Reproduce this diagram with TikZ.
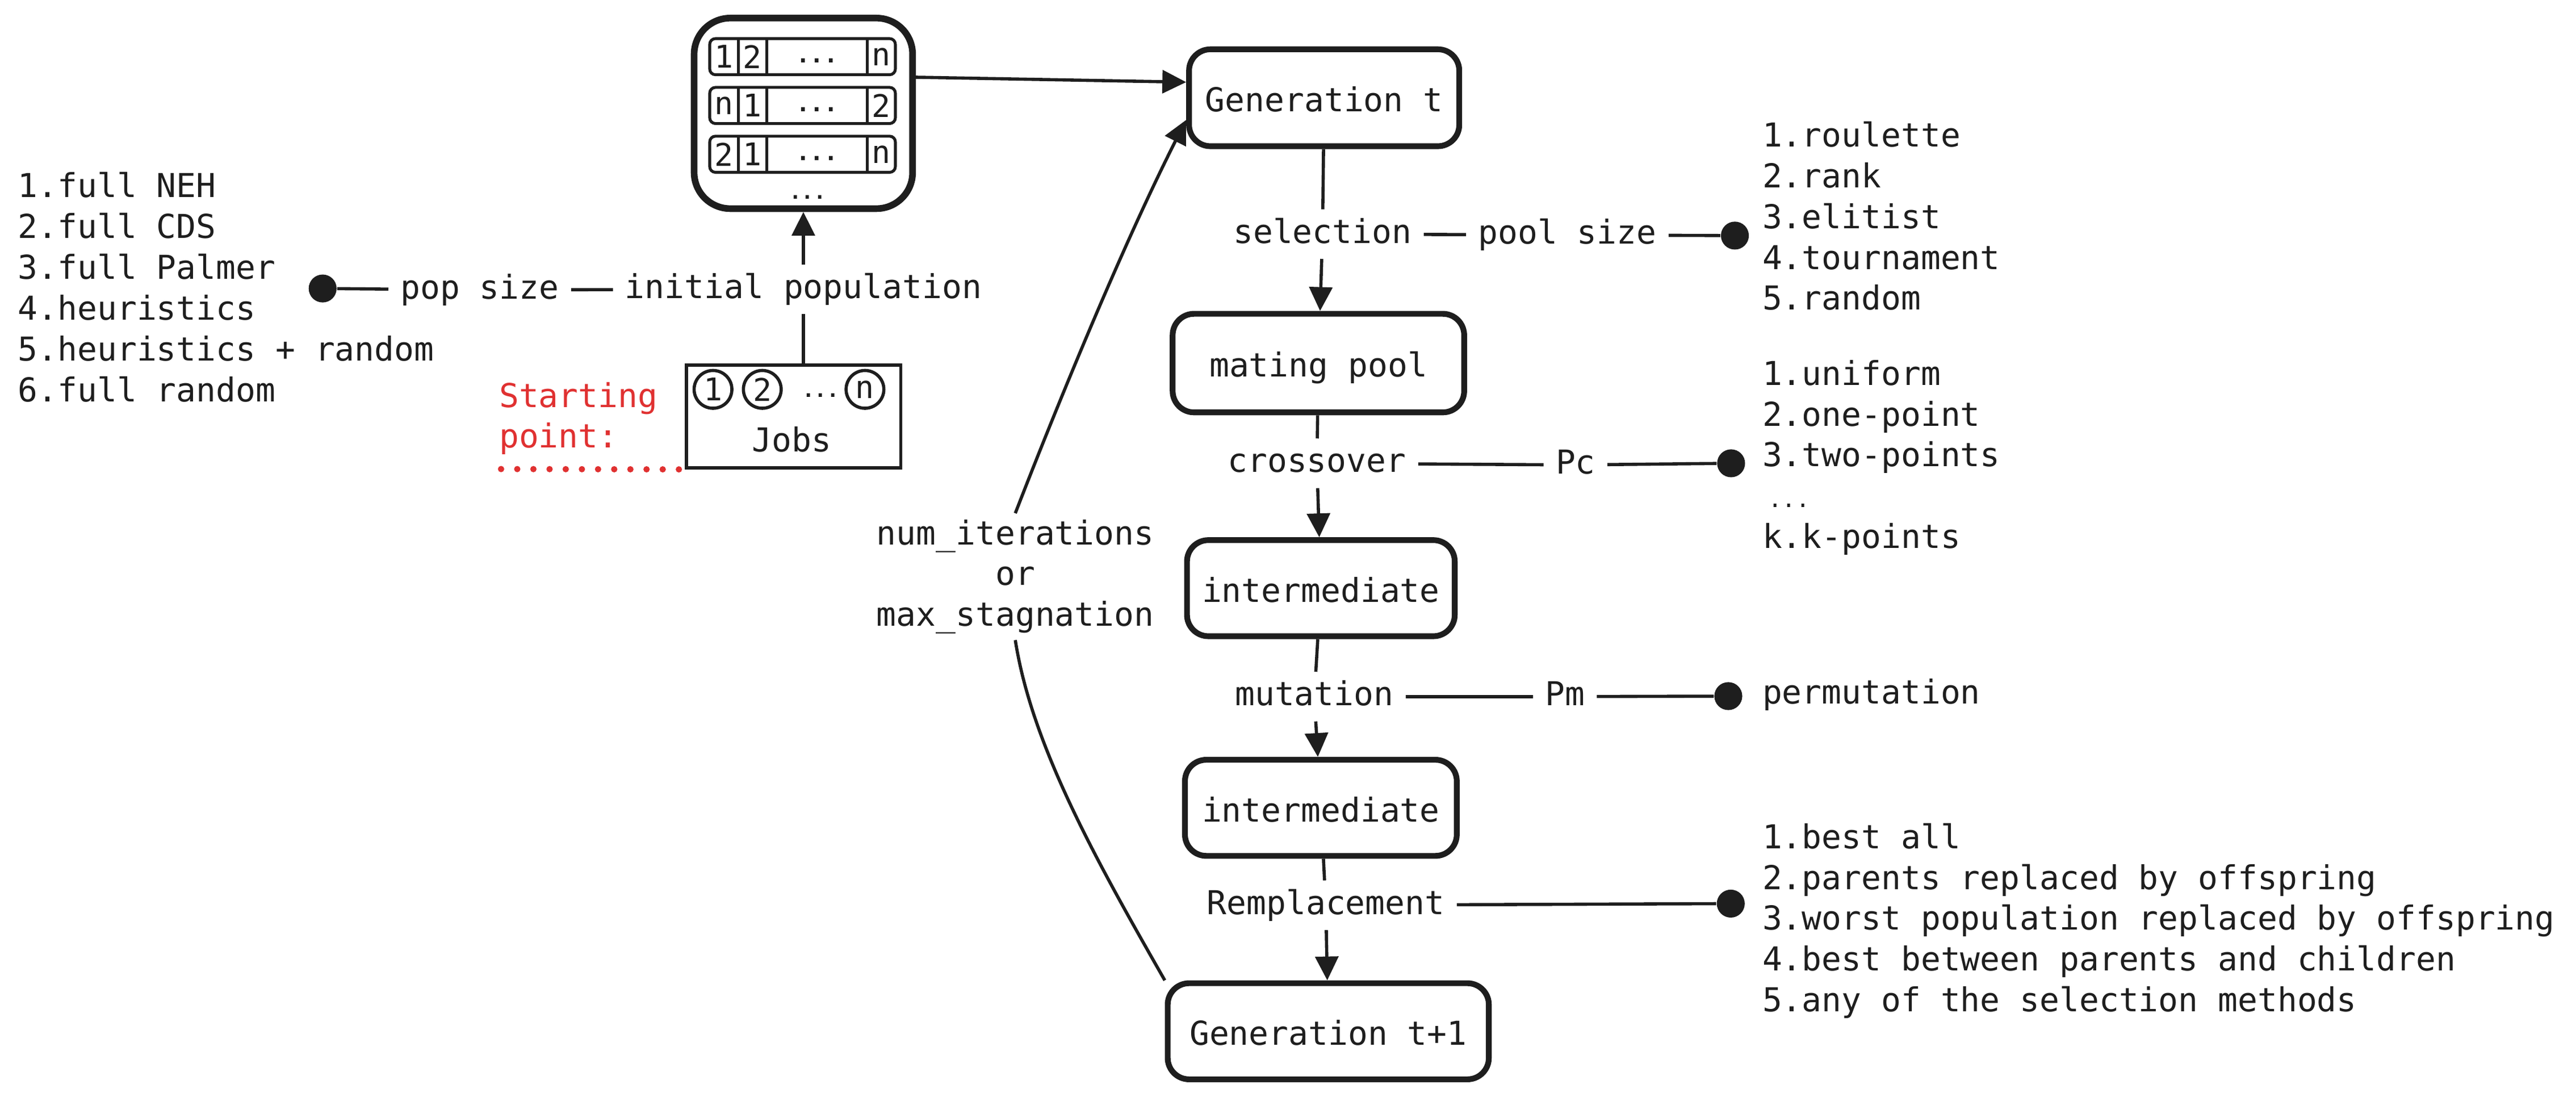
\documentclass[tikz,border=0pt]{standalone}
\usepackage{fontspec}
\setmainfont{DejaVu Sans Mono}
\usetikzlibrary{arrows.meta}
\definecolor{ink}{HTML}{1E1E1E}
\definecolor{redink}{HTML}{E03131}
\tikzset{
  stage/.style={draw=ink, line width=2pt, rounded corners=0.26cm, minimum height=1.18cm, inner sep=0pt, text height=9.6pt, text depth=0pt},
  lab/.style={inner xsep=4pt, inner ysep=3pt, text height=8.5pt, text depth=2.3pt},
  item/.style={anchor=west, inner sep=0pt, text height=8.5pt, text depth=2.3pt},
  knob/.style={circle, fill=ink, inner sep=0pt, minimum size=0.34cm},
  link/.style={draw=ink, line width=1.1pt},
  flow/.style={link, -{Triangle[length=0.29cm, width=0.28cm]}},
  gene/.style={inner sep=0pt, font=\fontsize{10.8}{12}\selectfont},
  job/.style={circle, draw=ink, line width=1.1pt, inner sep=0pt, minimum size=0.46cm, font=\fontsize{10.8}{12}\selectfont},
}
\begin{document}
\begin{tikzpicture}[x=0.02cm, y=-0.02cm, font=\fontsize{11.4}{14.1}\selectfont, every node/.append style={text=ink}]
	\useasboundingbox (0,0) rectangle (1568,667.7);
	% initial population
	\node[draw=ink, line width=2.3pt, rounded corners=0.44cm, minimum width=2.66cm, minimum height=2.32cm] (pop) at (489,69) {};
	\foreach \a/\b/\c [count=\r] in {1/2/n, n/1/2, 2/1/n}{
		\pgfmathsetmacro\yt{23.5+(\r-1)*29.7}
		\pgfmathsetmacro\yb{\yt+22}
		\draw[ink, line width=1pt, rounded corners=0.07cm] (432,\yt) rectangle (545,\yb);
		\draw[ink, line width=1pt] (449.3,\yt) -- (449.3,\yb) (466.6,\yt) -- (466.6,\yb) (528,\yt) -- (528,\yb);
		\node[gene] (r\r-a) at (440.7,{\yt+11}) {\a};
		\node[gene] (r\r-b) at (458,{\yt+11}) {\b};
		\node[gene] (r\r-d) at (497.3,{\yt+13.5}) {\bfseries\fontsize{8}{8}\selectfont...};
		\node[gene] (r\r-c) at (536.5,{\yt+11}) {\c};
	}
	\node[gene] (popdots) at (491.6,120) {\bfseries\fontsize{7}{7}\selectfont...};
	% jobs
	\node[draw=ink, line width=1.1pt, minimum width=2.61cm, minimum height=1.25cm, inner sep=0pt] (jobs) at (483,253.5) {};
	\node[job] (j1) at (434,237) {1};
	\node[job] (j2) at (464,237) {2};
	\node[gene] (jdots) at (499.5,240.8) {\bfseries\fontsize{7}{7}\selectfont...};
	\node[job] (jn) at (526.5,237) {n};
	\node[lab] (jobname) at (482,269.5) {Jobs};
	\node[item, text=redink] (st1) at (303.5,242.5) {Starting};
	\node[item, text=redink] (st2) at (303.5,267) {point:};
	\coordinate (sp) at (305,285.5);
	\draw[redink, line width=2.2pt, line cap=round, dash pattern=on 0pt off 5.6pt] (sp) -- (jobs.south west);
	% population methods
	\foreach \t [count=\i] in {1.full NEH, 2.full CDS, 3.full Palmer, 4.heuristics, 5.heuristics + random, 6.full random}
		\node[item] (popm\i) at (10.6,{114.5+(\i-1)*24.9}) {\t};
	\node[knob] (k0) at (196.4,175.6) {};
	\node[lab] (popsize) at (292,176.5) {pop size};
	\node[lab] (init) at (489,176) {initial population};
	\draw[link] (k0) -- (popsize);
	\draw[link] (popsize) -- (init);
	\draw[flow] (init) -- (pop);
	\draw[link] (init) -- (init |- jobs.north);
	% generations
	\node[stage, minimum width=3.29cm] (gen0) at (806,59.5) {Generation t};
	\node[stage, minimum width=3.55cm, minimum height=1.2cm] (pool) at (802.5,221) {mating pool};
	\node[stage, minimum width=3.26cm, minimum height=1.17cm] (mid1) at (804,358) {intermediate};
	\node[stage, minimum width=3.31cm, minimum height=1.17cm] (mid2) at (804,491.7) {intermediate};
	\node[stage, minimum width=3.91cm, minimum height=1.17cm] (gen1) at (808.5,627.7) {Generation t+1};
	\draw[flow] ([yshift=0.44cm]pop.east) -- ([yshift=0.19cm]gen0.west);
	% selection
	\node[lab] (sel) at (805,142.5) {selection};
	\node[lab] (poolsize) at (954,143) {pool size};
	\node[knob] (k1) at (1056,143.4) {};
	\draw[link] (gen0) -- (sel);
	\draw[flow] (sel) -- (pool);
	\draw[link] (sel) -- (poolsize);
	\draw[link] (poolsize) -- (k1);
	\foreach \t [count=\i] in {1.roulette, 2.rank, 3.elitist, 4.tournament, 5.random}
		\node[item] (selm\i) at (1072.4,{84+(\i-1)*24.8}) {\t};
	% crossover
	\node[lab] (cross) at (801.6,282) {crossover};
	\node[lab] (pc) at (959,283) {Pc};
	\node[knob] (k2) at (1053.7,282) {};
	\draw[link] (pool) -- (cross);
	\draw[flow] (cross) -- (mid1);
	\draw[link] (cross) -- (pc);
	\draw[link] (pc) -- (k2);
	\foreach \t/\k in {1.uniform/0, 2.one-point/1, 3.two-points/2, k.k-points/4}
		\node[item] (crm\k) at (1072.4,{229+\k*24.8}) {\t};
	\node[item] (crm3) at (1072.4,303.4) {\hspace{2pt}\fontsize{8}{8}\selectfont...};
	% mutation
	\node[lab] (mut) at (800,424) {mutation};
	\node[lab] (pm) at (952.5,424) {Pm};
	\node[knob] (k3) at (1052,423.7) {};
	\draw[link] (mid1) -- (mut);
	\draw[flow] (mut) -- (mid2);
	\draw[link] (mut) -- (pm);
	\draw[link] (pm) -- (k3);
	\node[item] (mutm) at (1072.4,423) {permutation};
	% replacement
	\node[lab] (rep) at (807,551) {Remplacement};
	\node[knob] (k4) at (1053.5,550) {};
	\draw[link] (mid2) -- (rep);
	\draw[flow] (rep) -- (gen1);
	\draw[link] (rep) -- (k4);
	\foreach \t [count=\i] in {1.best all, 2.parents replaced by offspring, 3.worst population replaced by offspring, 4.best between parents and children, 5.any of the selection methods}
		\node[item] (repm\i) at (1072.4,{511+(\i-1)*24.8}) {\t};
	% loop back
	\node[align=center, inner sep=2pt] (stop) at (618,351) {num\_iterations\\or\\max\_stagnation};
	\draw[link] (stop.south) .. controls (628,454) and (668,525) .. (gen1.north west);
	\draw[flow] (stop.north) .. controls (648,235) and (686,144) .. ([yshift=-0.27cm]gen0.west);
\end{tikzpicture}
\end{document}
